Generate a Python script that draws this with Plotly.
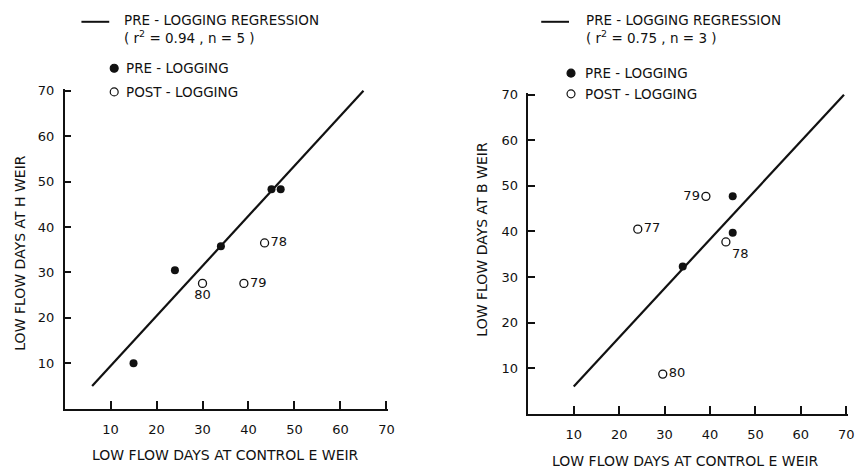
import plotly.graph_objects as go

# ---- Data: left panel (H weir vs control E weir)
h_pre_x = [15, 24, 34, 45, 47]
h_pre_y = [10, 30.5, 35.8, 48.3, 48.3]
h_post_x = [30, 39, 43.5]
h_post_y = [27.6, 27.6, 36.5]
h_post_lab = ["80", "79", "78"]
h_reg_x = [6, 65]
h_reg_y = [5, 70]

# ---- Data: right panel (B weir vs control E weir)
b_pre_x = [34, 45, 45]
b_pre_y = [32.3, 47.7, 39.7]
b_post_x = [39.1, 24.1, 43.5, 29.6]
b_post_y = [47.7, 40.5, 37.7, 8.7]
b_post_lab = ["79", "77", "78", "80"]
b_reg_x = [10, 69.5]
b_reg_y = [6, 70]

tick_vals = [10, 20, 30, 40, 50, 60, 70]
tick_text = ["10", "20", "30", "40", "50", "60", "70"]

FONT = "DejaVu Sans"
BLACK = "#111111"
W, H = 865, 471

fig = go.Figure()

def add_panel(xa, ya, reg_x, reg_y, pre_x, pre_y, post_x, post_y, labs, pos):
    fig.add_trace(go.Scatter(x=reg_x, y=reg_y, mode="lines", xaxis=xa, yaxis=ya,
                             line=dict(color=BLACK, width=2.2), showlegend=False,
                             hoverinfo="skip", cliponaxis=False))
    fig.add_trace(go.Scatter(x=pre_x, y=pre_y, mode="markers", xaxis=xa, yaxis=ya,
                             marker=dict(color=BLACK, size=8, symbol="circle"),
                             showlegend=False, cliponaxis=False))
    fig.add_trace(go.Scatter(x=post_x, y=post_y, mode="markers+text", xaxis=xa, yaxis=ya,
                             marker=dict(color=BLACK, size=8, symbol="circle-open",
                                         line=dict(color=BLACK, width=1.3)),
                             text=labs, textposition=pos,
                             textfont=dict(family=FONT, size=13, color=BLACK),
                             showlegend=False, cliponaxis=False))

add_panel("x", "y", h_reg_x, h_reg_y, h_pre_x, h_pre_y, h_post_x, h_post_y, h_post_lab,
          ["bottom center", "middle right", "middle right"])
add_panel("x2", "y2", b_reg_x, b_reg_y, b_pre_x, b_pre_y, b_post_x, b_post_y, b_post_lab,
          ["middle left", "middle right", "bottom right", "middle right"])

def px_x(p):
    return p / W

def px_y(p):
    return 1 - p / H

axis_common = dict(range=[0, 70.4], showgrid=False, zeroline=False, showline=True,
                   linecolor=BLACK, linewidth=1.5, ticks="inside", tickcolor=BLACK,
                   tickwidth=2, tickvals=tick_vals, ticktext=tick_text,
                   tickfont=dict(family=FONT, size=13, color=BLACK), fixedrange=True)

fig.update_layout(
    width=W, height=H, margin=dict(l=0, r=0, t=0, b=0),
    paper_bgcolor="white", plot_bgcolor="white", showlegend=False,
    xaxis=dict(domain=[px_x(65), px_x(391)], anchor="y", ticklen=8,
               ticklabelstandoff=8, **axis_common),
    yaxis=dict(domain=[px_y(408), px_y(84)], anchor="x", ticklen=7,
               ticklabelstandoff=6, **axis_common),
    xaxis2=dict(domain=[px_x(532), px_x(854)], anchor="y2", ticklen=8,
                ticklabelstandoff=8, **axis_common),
    yaxis2=dict(domain=[px_y(413), px_y(88)], anchor="x2", ticklen=7,
                ticklabelstandoff=6, **axis_common),
)

tf = dict(family=FONT, size=14, color=BLACK)
tl = dict(family=FONT, size=13.5, color=BLACK)
ann = []
# axis titles
ann.append(dict(text="LOW FLOW DAYS AT CONTROL E WEIR", x=px_x(227), y=px_y(455)))
ann.append(dict(text="LOW FLOW DAYS AT CONTROL E WEIR", x=px_x(690), y=px_y(461)))
ann.append(dict(text="LOW FLOW DAYS AT H WEIR", x=px_x(20), y=px_y(250), textangle=-90))
ann.append(dict(text="LOW FLOW DAYS AT B WEIR", x=px_x(485), y=px_y(236), textangle=-90))
for a in ann:
    a.update(xref="paper", yref="paper", showarrow=False, font=tf,
             xanchor="center", yanchor="middle")

# legend texts
leg = [
    ("PRE - LOGGING REGRESSION<br>( r<sup>2</sup> = 0.94 , n = 5 )", 123, 23),
    ("PRE - LOGGING", 125, 63),
    ("POST - LOGGING", 125, 87),
    ("PRE - LOGGING REGRESSION<br>( r<sup>2</sup> = 0.75 , n = 3 )", 588, 23),
    ("PRE - LOGGING", 587, 68),
    ("POST - LOGGING", 587, 89),
]
for t, x, y in leg:
    ann.append(dict(text=t, x=px_x(x), y=px_y(y), xref="paper", yref="paper",
                    showarrow=False, font=tl, xanchor="left", yanchor="middle",
                    align="left"))
fig.update_layout(annotations=ann)

shapes = []
# legend line samples
for x0, x1, y in [(82, 110, 16), (545, 573, 16)]:
    shapes.append(dict(type="line", xref="paper", yref="paper",
                       x0=px_x(x0), x1=px_x(x1), y0=px_y(y), y1=px_y(y),
                       line=dict(color=BLACK, width=2)))
# legend markers
for x, y, filled in [(115, 63, True), (115, 87, False), (575, 68, True), (575, 89, False)]:
    r = 4
    shapes.append(dict(type="circle", xref="paper", yref="paper",
                       x0=px_x(x - r), x1=px_x(x + r), y0=px_y(y + r), y1=px_y(y - r),
                       fillcolor=BLACK if filled else "white",
                       line=dict(color=BLACK, width=1.2)))
fig.update_layout(shapes=shapes)

fig.write_html("out.html")
